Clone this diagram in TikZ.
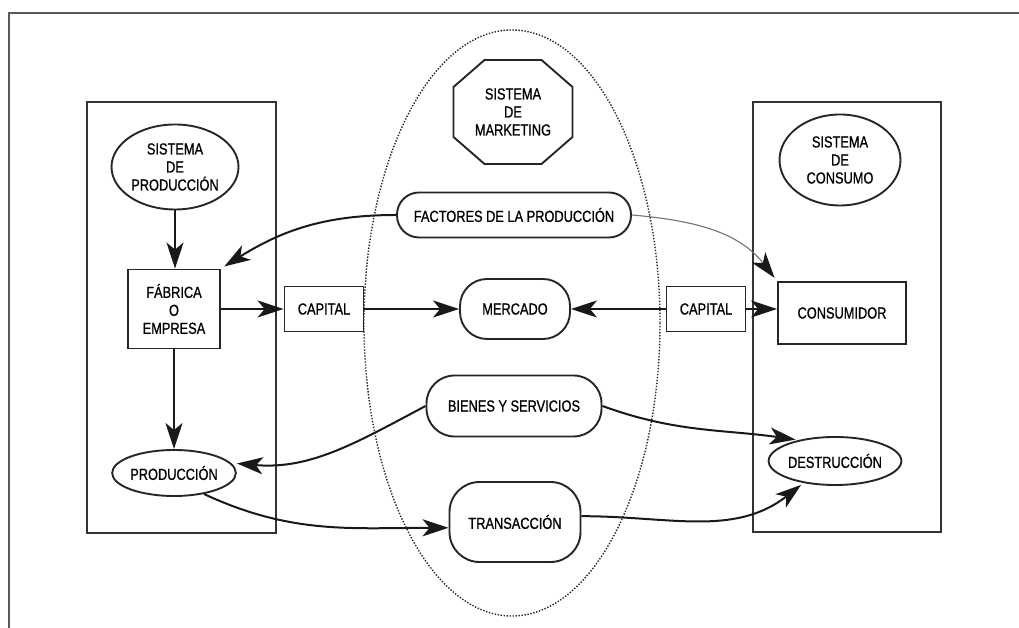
\documentclass[tikz,border=0pt]{standalone}
\usepackage{fontspec}
\setmainfont{Liberation Sans}[FakeStretch=0.8, FakeBold=0.8]
\usetikzlibrary{arrows.meta,shapes.geometric,calc}
\begin{document}
\begin{tikzpicture}[x=1pt,y=1pt,
  txt/.style={font=\fontsize{16}{18}\selectfont, align=center, inner sep=0pt},
  bord/.style={draw=black!85, line width=1.9pt},
  oval/.style={txt, bord, ellipse, inner sep=0pt},
  boxn/.style={txt, bord, rectangle},
  pill/.style={txt, bord, rectangle, rounded corners=#1},
  arr/.style={draw=black!90, line width=2pt, -{Stealth[length=26pt,width=17pt,inset=7pt]}},
  thinarr/.style={draw=black!55, line width=1.1pt, -{Stealth[length=26pt,width=17pt,inset=7pt,black!90]}},
  frame/.style={draw=black!65, line width=1.5pt},
  panel/.style={draw=black!80, line width=1.7pt},
  dots/.style={draw=black!85, line width=1.4pt, dash pattern=on 1.4pt off 1.6pt}
]
\useasboundingbox (0,0) rectangle (1019,628);
% outer frame
\draw[frame] (9,0) -- (9,615) -- (1019,615);
% side panels
\draw[panel] (87,95) rectangle (276,526);
\draw[panel] (753,96) rectangle (941,526);
% marketing dotted ellipse
\draw[dots] (512,305) ellipse [x radius=148, y radius=293];

% nodes
\node[oval, minimum width=127pt, minimum height=85pt] (sp) at (175,461) {SISTEMA\\DE\\PRODUCCIÓN};
\node[boxn, minimum width=92pt, minimum height=79pt] (fab) at (174,319) {FÁBRICA\\O\\EMPRESA};
\node[oval, minimum width=122pt, minimum height=46pt] (prod) at (174,155) {PRODUCCIÓN};
\node[boxn, minimum width=79pt, minimum height=45pt] (capL) at (324,319) {CAPITAL};

\node[txt] (mkt) at (513,516) {SISTEMA\\DE\\MARKETING};
\draw[bord] ($(mkt)+(-28.5,52)$) -- ($(mkt)+(28.5,52)$) -- ($(mkt)+(59.5,25)$)
  -- ($(mkt)+(59.5,-25)$) -- ($(mkt)+(28.5,-52)$) -- ($(mkt)+(-28.5,-52)$)
  -- ($(mkt)+(-59.5,-25)$) -- ($(mkt)+(-59.5,25)$) -- cycle;
\node[pill=22pt, minimum width=234pt, minimum height=45pt] (fac) at (514,413) {FACTORES DE LA PRODUCCIÓN};
\node[pill=27pt, minimum width=110pt, minimum height=60pt] (merc) at (515,319) {MERCADO};
\node[pill=28pt, minimum width=175pt, minimum height=61pt] (bien) at (514,222) {BIENES Y SERVICIOS};
\node[pill=30pt, minimum width=131pt, minimum height=80pt] (trans) at (515,106) {TRANSACCIÓN};

\node[boxn, minimum width=79pt, minimum height=45pt] (capR) at (706,319) {CAPITAL};
\node[oval, minimum width=121pt, minimum height=91pt] (sc) at (840,468) {SISTEMA\\DE\\CONSUMO};
\node[boxn, minimum width=128pt, minimum height=62pt] (cons) at (842,315) {CONSUMIDOR};
\node[oval, minimum width=114pt, minimum height=48pt] (dest) at (835,167) {DESTRUCCIÓN};

% connectors
\draw[arr] (sp.south) -- (sp.south |- fab.north);
\draw[arr] (fab.south) -- (fab.south |- prod.north);
\draw[arr] (fab.east) -- (fab.east -| capL.west);
\draw[arr] (capL.east) -- (capL.east -| merc.west);
\draw[arr] (capR.west) -- (capR.west -| merc.east);
\draw[arr] (capR.east) -- (capR.east -| cons.west);
\draw[arr, shorten >=4pt] (fac.west) to[out=180, in=32] (fab.north east);
\draw[thinarr, shorten >=4pt] (fac.east) to[out=-5, in=128] (cons.north west);
\draw[arr, shorten >=6pt] (bien.west) to[out=208, in=-5] (prod.10);
\draw[arr, shorten >=3pt] (bien.east) to[out=-20, in=172] (dest.150);
\draw[arr] (prod.-35) to[out=-25, in=180] (trans.185);
\draw[arr, shorten >=3pt] (trans.5) to[out=0, in=218] (dest.215);
\end{tikzpicture}
\end{document}
